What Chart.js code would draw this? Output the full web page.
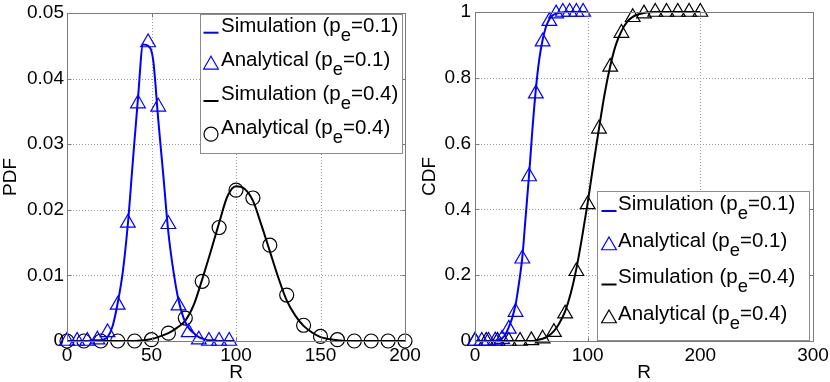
<!DOCTYPE html>
<html><head><meta charset="utf-8">
<script src="https://cdn.jsdelivr.net/npm/chart.js@4.4.0/dist/chart.umd.min.js"></script>
<style>
html,body{margin:0;padding:0;background:#fff;}
#wrap{position:relative;width:830px;height:382px;overflow:hidden;font-family:"Liberation Sans",Arial,sans-serif;}
canvas{position:absolute;left:0;top:0;}
.legend{position:absolute;background:#fff;border:1px solid #8c8c8c;box-sizing:border-box;}
.row{position:absolute;white-space:nowrap;font-size:20.5px;line-height:22px;color:#000;}
.row sub{font-size:0.9em;vertical-align:-0.5em;line-height:0;}
svg.sym{position:absolute;left:0;top:0;overflow:visible;}
</style></head>
<body><div id="wrap"><canvas id="c1" width="830" height="382"></canvas><canvas id="c2" width="830" height="382"></canvas></div>
<script>
// ---- data ----
const rStep3 = [0,3,6,9,12,15,18,21,24,27,30,33,36,39,42,45,48,51,54,57,60,63,66,69,72,75,78,81,84,87,90,93,96,99];
const rStep6 = [0,6,12,18,24,30,36,42,48,54,60,66,72,78,84,90,96];
const rStep5 = [0,5,10,15,20,25,30,35,40,45,50,55,60,65,70,75,80,85,90,95,100,105,110,115,120,125,130,135,140,145,150,155,160,165,170,175,180,185,190,195,200];
const rStep10 = [0,10,20,30,40,50,60,70,80,90,100,110,120,130,140,150,160,170,180,190,200];

const pdfSim01 = [0,0,0,0,0,0.0001,0.0001,0.0002,0.0006,0.0023,0.0058,0.0105,0.0178,0.0275,0.037,0.0452,0.045,0.0428,0.0337,0.0252,0.0165,0.0106,0.0062,0.0035,0.002,0.0012,0.0006,0.0003,0.0001,0.0001,0,0,0,0];
const pdfAna01 = [0,0,0,0.0002,0.0013,0.0055,0.018,0.0362,0.0455,0.0357,0.0178,0.0054,0.0013,0.0002,0,0,0];
const pdfSim04 = [0,0,0,0,0,0,0,0,0,0.0001,0.0003,0.0007,0.0012,0.002,0.0031,0.0055,0.0094,0.0136,0.018,0.0221,0.0236,0.0232,0.0214,0.0177,0.0137,0.0097,0.0062,0.0039,0.0023,0.0013,0.0006,0.0003,0.0001,0,0,0,0,0,0,0,0];
const pdfAna04 = [0,0,0,0,0,0.0002,0.0012,0.0035,0.0091,0.0173,0.023,0.0218,0.0146,0.007,0.0024,0.0007,0.0002,0,0,0,0];

const cdfSim01 = [0,0,0,0,0,0,0.001,0.003,0.008,0.02,0.042,0.07,0.11,0.175,0.255,0.38,0.505,0.645,0.765,0.855,0.915,0.955,0.978,0.99,0.995,0.998,0.999,1,1,1,1,1,1,1];
const cdfAna01 = [0,0,0,0.001,0.006,0.037,0.088,0.25,0.5,0.752,0.91,0.972,0.995,1,1,1,1];
const cdfSim04 = [0,0,0,0,0,0,0,0,0,0,0,0.003,0.007,0.015,0.03,0.055,0.09,0.145,0.22,0.315,0.42,0.535,0.645,0.75,0.835,0.9,0.942,0.97,0.985,0.993,0.997,0.999,1,1,1,1,1,1,1,1,1];
const cdfAna04 = [0,0,0,0,0,0.002,0.007,0.027,0.083,0.212,0.415,0.645,0.833,0.936,0.984,0.995,1,1,1,1,1];

const pdfXTicks = [0,50,100,150,200];
const pdfYTicks = [0,0.01,0.02,0.03,0.04,0.05];
const pdfYTickLabels = ['0','0.01','0.02','0.03','0.04','0.05'];
const cdfXTicks = [0,100,200,300];
const cdfYTicks = [0,0.2,0.4,0.6,0.8,1];
const cdfYTickLabels = ['0','0.2','0.4','0.6','0.8','1'];

const seriesNames = ['Simulation','Analytical','Simulation','Analytical'];
const seriesPe = ['0.1','0.1','0.4','0.4'];
const seriesColors = ['#0000ff','#0000ff','#000000','#000000'];

// ---- helpers ----
const FONT = 'Liberation Sans, Arial, sans-serif';
const pts = (xs, ys) => xs.map((x, i) => ({x: x, y: ys[i]}));
const label = i => seriesNames[i] + ' (p\u2091=' + seriesPe[i] + ')';

function lineDs(i, xs, ys) {
  return {label: label(i), data: pts(xs, ys), showLine: true, borderColor: seriesColors[i], borderWidth: 2,
    pointRadius: 0, fill: false, cubicInterpolationMode: 'monotone', clip: false};
}
function markDs(i, xs, ys, style, r) {
  return {label: label(i), data: pts(xs, ys), showLine: false, pointStyle: style, pointRadius: r,
    pointBorderColor: seriesColors[i], pointBackgroundColor: 'rgba(0,0,0,0)', pointBorderWidth: 1.2, clip: false};
}

const boxPlugin = {
  id: 'box',
  beforeDatasetsDraw(chart) {
    const {ctx, chartArea: a, scales} = chart;
    ctx.save();
    ctx.strokeStyle = '#9c9c9c'; ctx.lineWidth = 1; ctx.setLineDash([1, 2]);
    ctx.beginPath();
    scales.x.ticks.forEach(t => { const p = Math.round(scales.x.getPixelForValue(t.value)) + 0.5;
      ctx.moveTo(p, a.top); ctx.lineTo(p, a.bottom); });
    scales.y.ticks.forEach(t => { const p = Math.round(scales.y.getPixelForValue(t.value)) + 0.5;
      ctx.moveTo(a.left, p); ctx.lineTo(a.right, p); });
    ctx.stroke();
    ctx.restore();
  },
  afterDatasetsDraw(chart) {
    const {ctx, chartArea: a, scales} = chart;
    const L = Math.round(a.left) + 0.5, T = Math.round(a.top) + 0.5, R = Math.round(a.right) + 0.5, B = Math.round(a.bottom) + 0.5;
    ctx.save();
    ctx.strokeStyle = '#7a7a7a'; ctx.lineWidth = 1;
    ctx.strokeRect(L, T, R - L, B - T);
    ctx.beginPath();
    scales.x.ticks.forEach(t => { const p = Math.round(scales.x.getPixelForValue(t.value)) + 0.5;
      ctx.moveTo(p, B); ctx.lineTo(p, B - 4); ctx.moveTo(p, T); ctx.lineTo(p, T + 4); });
    scales.y.ticks.forEach(t => { const p = Math.round(scales.y.getPixelForValue(t.value)) + 0.5;
      ctx.moveTo(L, p); ctx.lineTo(L + 4, p); ctx.moveTo(R, p); ctx.lineTo(R - 4, p); });
    ctx.stroke();
    ctx.restore();
  }
};

function makeChart(id, datasets, o) {
  const tickFont = {family: FONT, size: 19};
  return new Chart(document.getElementById(id), {
    type: 'scatter',
    data: {datasets: datasets},
    options: {
      responsive: false, animation: false, events: [],
      layout: {padding: o.padding},
      plugins: {legend: {display: false}, tooltip: {enabled: false}},
      scales: {
        x: {type: 'linear', min: o.xMin, max: o.xMax,
          afterBuildTicks: s => { s.ticks = o.xTicks.map(v => ({value: v})); },
          afterFit: s => { s.height = 41; s.paddingLeft = 0; s.paddingRight = 0; },
          grid: {display: false, drawTicks: false},
          border: {display: false},
          ticks: {color: '#000', font: tickFont, padding: 3, maxRotation: 0, autoSkip: false,
            callback: v => String(v)},
          title: {display: true, text: 'R', color: '#000', font: tickFont, padding: {top: 0, bottom: -2}}
        },
        y: {type: 'linear', min: o.yMin, max: o.yMax,
          afterBuildTicks: s => { s.ticks = o.yTicks.map(v => ({value: v})); },
          afterFit: s => { s.width = o.yWidth; s.paddingTop = 0; s.paddingBottom = 0; },
          grid: {display: false, drawTicks: false},
          border: {display: false},
          ticks: {color: '#000', font: tickFont, padding: o.yPad, autoSkip: false,
            callback: (v, i) => o.yLabels[i]},
          title: {display: true, text: o.yTitle, color: '#000', font: tickFont, padding: {top: o.yTitlePad, bottom: 0}}
        }
      }
    },
    plugins: [boxPlugin]
  });
}

makeChart('c1', [
  lineDs(0, rStep3, pdfSim01),
  markDs(1, rStep6, pdfAna01, 'triangle', 8.5),
  lineDs(2, rStep5, pdfSim04),
  markDs(3, rStep10, pdfAna04, 'circle', 7)
], {padding: {left: 0, right: 425, top: 13, bottom: 0}, xMin: 0, xMax: 200, xTicks: pdfXTicks,
    yMin: 0, yMax: 0.05, yTicks: pdfYTicks, yLabels: pdfYTickLabels, yWidth: 67, yPad: 3, yTitle: 'PDF', yTitlePad: -0.5});

makeChart('c2', [
  lineDs(0, rStep3, cdfSim01),
  markDs(1, rStep6, cdfAna01, 'triangle', 8.5),
  lineDs(2, rStep5, cdfSim04),
  markDs(3, rStep10, cdfAna04, 'triangle', 8.5)
], {padding: {left: 415, right: 17, top: 12, bottom: 0}, xMin: 0, xMax: 300, xTicks: cdfXTicks,
    yMin: 0, yMax: 1, yTicks: cdfYTicks, yLabels: cdfYTickLabels, yWidth: 60, yPad: 4, yTitle: 'CDF', yTitlePad: 3.5});

// ---- HTML legends (for the subscript) ----
function makeLegend(box, symX, textX, baselines, symbols) {
  const wrap = document.getElementById('wrap');
  const lg = document.createElement('div');
  lg.className = 'legend';
  Object.assign(lg.style, {left: box[0] + 'px', top: box[1] + 'px', width: box[2] + 'px', height: box[3] + 'px'});
  wrap.appendChild(lg);
  const ns = 'http://www.w3.org/2000/svg';
  const svg = document.createElementNS(ns, 'svg');
  svg.setAttribute('class', 'sym'); svg.setAttribute('width', '830'); svg.setAttribute('height', '382');
  svg.style.left = (-box[0] - 1) + 'px'; svg.style.top = (-box[1] - 1) + 'px';
  lg.appendChild(svg);
  baselines.forEach((b, i) => {
    const row = document.createElement('div');
    row.className = 'row';
    row.style.left = (textX - box[0] - 1) + 'px';
    row.style.top = (b - 18.1 - box[1] - 1) + 'px';
    row.innerHTML = seriesNames[i] + ' (p<sub>e</sub>=' + seriesPe[i] + ')';
    lg.appendChild(row);
    const c = seriesColors[i];
    let el;
    if (symbols[i] === 'line') {
      el = document.createElementNS(ns, 'line');
      el.setAttribute('x1', symX - 7.5); el.setAttribute('x2', symX + 7.5);
      el.setAttribute('y1', b + 1); el.setAttribute('y2', b + 1);
      el.setAttribute('stroke-width', '2');
    } else if (symbols[i] === 'triangle') {
      const r = 8.5, cy = b - 1.5;
      el = document.createElementNS(ns, 'polygon');
      const p = [[symX, cy - r], [symX + r * 0.866, cy + r / 2], [symX - r * 0.866, cy + r / 2]];
      el.setAttribute('points', p.map(q => q.join(',')).join(' '));
      el.setAttribute('fill', 'none'); el.setAttribute('stroke-width', '1.2');
    } else {
      el = document.createElementNS(ns, 'circle');
      el.setAttribute('cx', symX); el.setAttribute('cy', b + 0.5); el.setAttribute('r', 7);
      el.setAttribute('fill', 'none'); el.setAttribute('stroke-width', '1.2');
    }
    el.setAttribute('stroke', c);
    svg.appendChild(el);
  });
}
makeLegend([200, 14, 203, 140], 211, 221, [31.7, 66.3, 100, 133.7], ['line', 'triangle', 'line', 'circle']);
makeLegend([597, 191, 213, 150], 609, 618, [210, 247, 283.5, 320], ['line', 'triangle', 'line', 'triangle']);
</script>
</body></html>
